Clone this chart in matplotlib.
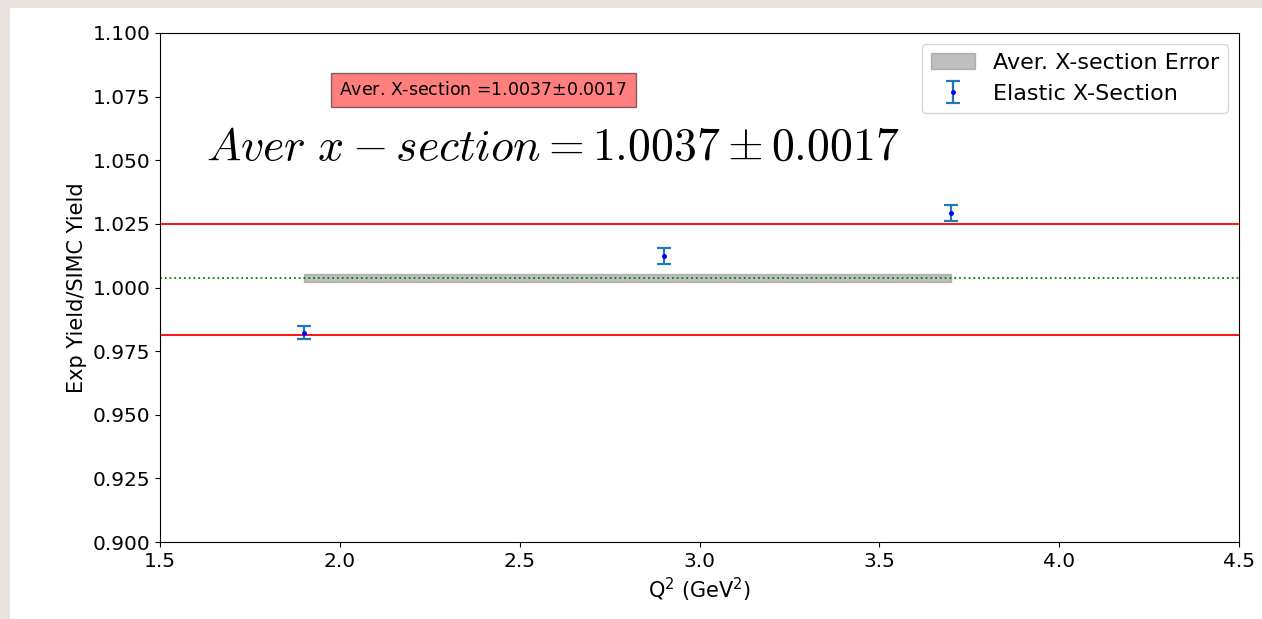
import numpy as np
import matplotlib
matplotlib.use('Agg')
import matplotlib.pyplot as plt
from matplotlib.patches import Rectangle

# 数据
q2 = [1.9, 2.9, 3.7]
ratio = [0.9822, 1.0124, 1.0293]
ratio_err = [0.0025, 0.003, 0.003]
aver = 1.0037
aver_err = 0.0017
band_x = [1.9, 3.7]
red_lines = [1.025, 0.9814]

W, H = 1262, 619
fig = plt.figure(figsize=(W/100, H/100), dpi=100, facecolor='#e9e1de')
# 白色背景（截图边框）
fig.patches.append(Rectangle((10/W, 0), 1 - 10/W, 1 - 8/H, transform=fig.transFigure,
                             facecolor='white', edgecolor='none', zorder=-10))

ax = fig.add_axes([160/W, (H-542)/H, 1079/W, 509/H])
ax.set_facecolor('white')

fs = 14.5
ax.fill_between(band_x, aver - aver_err, aver + aver_err, color='gray', alpha=0.5,
                label='Aver. X-section Error')
ax.axhline(aver, color='g', linestyle=':', lw=1.3)
for r in red_lines:
    ax.axhline(r, color='r', lw=1.3)
ax.errorbar(q2, ratio, yerr=ratio_err, fmt='b.', ecolor='C0', capsize=5, ms=5,
            elinewidth=1.6, capthick=1.6, label='Elastic X-Section')

ax.set_xlim(1.5, 4.5)
ax.set_ylim(0.9, 1.1)
ax.set_yticks(np.arange(0.9, 1.1001, 0.025))
ax.tick_params(labelsize=fs)
ax.set_xlabel('Q$^2$ (GeV$^2$)', fontsize=fs + 0.5)
ax.set_ylabel('Exp Yield/SIMC Yield', fontsize=fs + 0.5)

ax.legend(loc='upper right', fontsize=16)

ax.text(0.166, 0.888, 'Aver. X-section =%.4f$\\pm$%.4f' % (aver, aver_err),
        transform=ax.transAxes, fontsize=12.5, va='center',
        bbox=dict(facecolor='red', alpha=0.5, edgecolor='k', pad=6))
ax.text(0.043, 0.75, r'$Aver\ x-section = %.4f \pm %.4f$' % (aver, aver_err),
        transform=ax.transAxes, fontsize=33, math_fontfamily='cm')

fig.savefig('out.png', dpi=100, facecolor=fig.get_facecolor())
